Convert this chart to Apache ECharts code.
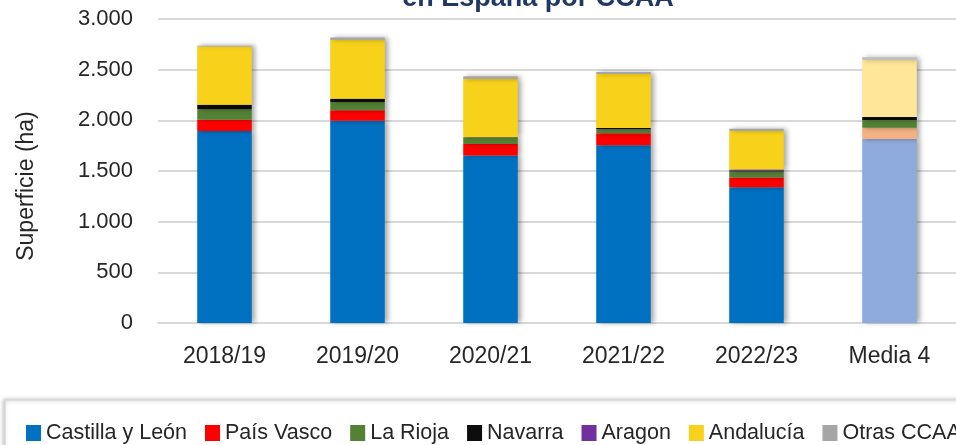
<!DOCTYPE html>
<html>
<head>
<meta charset="utf-8">
<script src="https://cdn.jsdelivr.net/npm/echarts@6/dist/echarts.min.js"></script>
<style>
  html, body { margin: 0; padding: 0; background: #fff; }
  #chart { width: 956px; height: 445px; }
</style>
</head>
<body>
<div id="chart"></div>
<script>
// campañas
var categorias = ['2018/19', '2019/20', '2020/21', '2021/22', '2022/23', 'Media 4'];
// superficie (ha) por CCAA
var castillaLeon = [1895, 1995, 1652, 1754, 1340, 1816];
var paisVasco    = [110, 105, 115, 118, 95, 112];
var laRioja      = [105, 82, 62, 40, 59, 75];
var navarra      = [43, 30, 4, 13, 12, 30];
var aragon       = [0, 0, 0, 0, 10, 0];
var andalucia    = [576, 580, 575, 533, 378, 563];
var otrasCCAA    = [8, 25, 26, 20, 23, 26];
var ticksY = [0, 500, 1000, 1500, 2000, 2500, 3000];

var fuente = 'Liberation Sans';
var chart = echarts.init(document.getElementById('chart'));

// la ultima barra (Media 4) va en tonos claros
function serie(nombre, valores, color, colorMedia) {
    return {
        name: nombre,
        type: 'bar',
        stack: 'total',
        barWidth: '41%',
        itemStyle: {
            color: color,
            shadowColor: 'rgba(0,0,0,0.35)',
            shadowBlur: 5,
            shadowOffsetX: 3,
            shadowOffsetY: 0
        },
        data: valores.map(function (v, i) {
            if (i === valores.length - 1) {
                return { value: v, itemStyle: { color: colorMedia } };
            }
            return v;
        })
    };
}

var option = {
    animation: false,
    textStyle: { fontFamily: fuente },
    graphic: [
        {
            // titulo, cortado por arriba como en la imagen
            type: 'text', x: 538, y: -1,
            style: {
                text: 'en España por CCAA',
                fill: '#1F3864', font: 'bold 27px ' + fuente,
                textAlign: 'center', textVerticalAlign: 'middle'
            }
        },
        {
            type: 'rect', shape: { x: 5, y: 400, width: 960, height: 60 },
            style: { fill: '#fff', stroke: '#D9D9D9', lineWidth: 1.5,
                     shadowColor: 'rgba(0,0,0,0.25)', shadowBlur: 4, shadowOffsetX: -1 },
            z: -1
        }
    ],
    grid: { left: 158, right: -3, top: 19, bottom: 122 },
    legend: {
        left: 21, top: 417, width: 1400,
        itemWidth: 15, itemHeight: 16, itemGap: 18,
        icon: 'rect',
        textStyle: { fontSize: 21.5, color: '#262626', fontFamily: fuente },
        data: ['Castilla y León', 'País Vasco', 'La Rioja', 'Navarra', 'Aragon', 'Andalucía', 'Otras CCAA']
    },
    xAxis: {
        type: 'category',
        data: categorias,
        axisLine: { lineStyle: { color: '#D9D9D9', width: 2 } },
        axisTick: { show: false },
        axisLabel: { fontSize: 23, color: '#262626', margin: 22 }
    },
    yAxis: {
        type: 'value',
        min: ticksY[0], max: ticksY[ticksY.length - 1], interval: 500,
        name: 'Superficie (ha)',
        nameLocation: 'middle',
        nameGap: 120,
        nameRotate: 90,
        nameTextStyle: { fontSize: 23, color: '#262626', padding: [0, 0, 0, -30] },
        axisLine: { show: false },
        axisTick: { show: false },
        splitLine: { lineStyle: { color: '#D9D9D9', width: 2 } },
        axisLabel: {
            fontSize: 22, color: '#262626', margin: 25,
            formatter: function (v) { return v.toLocaleString('de-DE'); }
        }
    },
    series: [
        serie('Castilla y León', castillaLeon, '#0070C0', '#8FAADC'),
        serie('País Vasco', paisVasco, '#FF0000', '#F4B183'),
        serie('La Rioja', laRioja, '#548235', '#548235'),
        serie('Navarra', navarra, '#0D0D0D', '#0D0D0D'),
        serie('Aragon', aragon, '#7030A0', '#B4A7D6'),
        serie('Andalucía', andalucia, '#F8D21A', '#FFE699'),
        serie('Otras CCAA', otrasCCAA, '#A6A6A6', '#BFBFBF')
    ]
};

chart.setOption(option);
window.onresize = function () {
    chart.resize();
};
</script>
</body>
</html>
